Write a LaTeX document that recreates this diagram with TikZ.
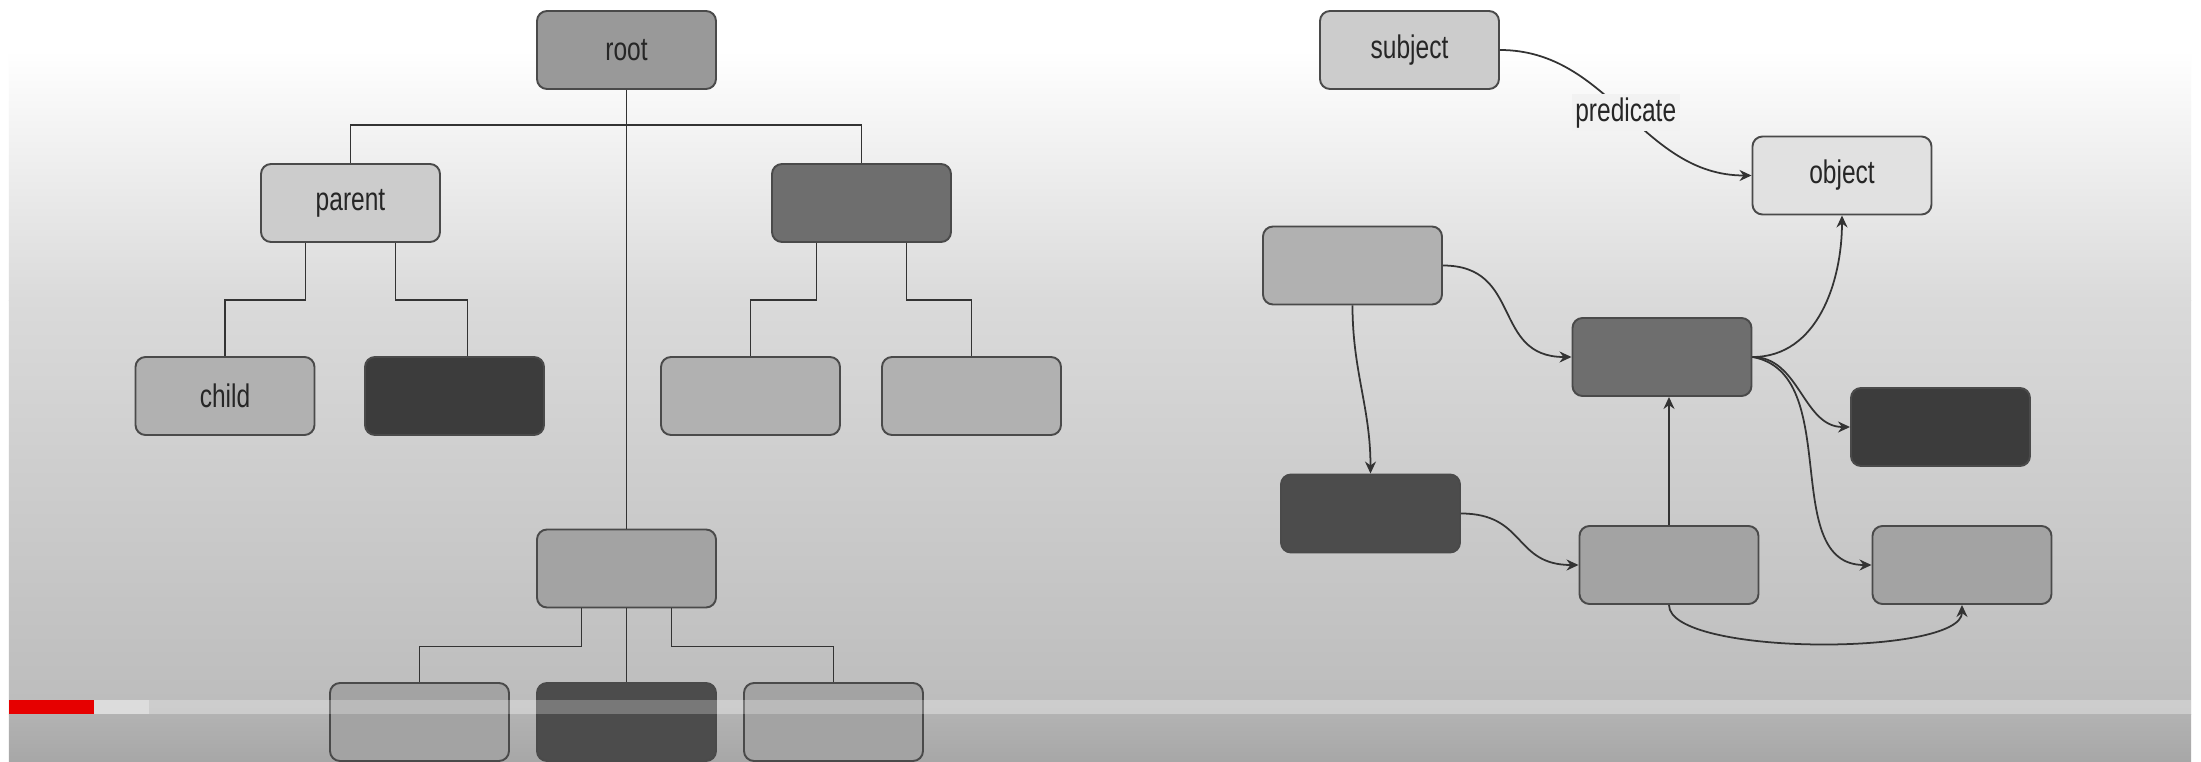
\documentclass[tikz,border=0pt]{standalone}
\usepackage{fontspec}
\setmainfont{Liberation Sans}[FakeStretch=0.75]
\usetikzlibrary{arrows.meta}
\definecolor{tone-1}{HTML}{e1e1e1}
\definecolor{tone-2}{HTML}{cccccc}
\definecolor{tone-3}{HTML}{b1b1b1}
\definecolor{tone-4}{HTML}{a3a3a3}
\definecolor{tone-5}{HTML}{999999}
\definecolor{tone-6}{HTML}{6e6e6e}
\definecolor{tone-7}{HTML}{4c4c4c}
\definecolor{tone-8}{HTML}{3c3c3c}
\definecolor{frame-grey}{HTML}{4a4a4a}
\definecolor{line-grey}{HTML}{333333}
\definecolor{bg-mid}{HTML}{dadada}
\definecolor{bg-low}{HTML}{bcbcbc}
\definecolor{bg-foot}{HTML}{a7a7a7}
\definecolor{bar-red}{HTML}{e60000}
\definecolor{bar-buffer}{HTML}{dcdcdc}

\begin{document}
\begin{tikzpicture}[
    box/.style={
        draw=frame-grey, line width=0.55pt, rounded corners=1mm,
        minimum width=1.79cm, minimum height=0.78cm,
        text=black!85, font=\fontsize{9.3}{11}\selectfont,
    },
    link/.style={ draw=line-grey, line width=0.5pt, },
    arrow/.style={ link, -{Stealth[length=1.2mm, width=1.1mm]}, },
    tag/.style={ fill=black!5, inner sep=1pt, text=black!85, font=\fontsize{9.3}{11}\selectfont, },
]
\useasboundingbox (0,0) rectangle (22.01,-7.62);

\fill[white] (0,0) rectangle (22.01,-7.62);
\shade[top color=white, bottom color=bg-mid] (0.09,-0.5) rectangle (21.91,-3);
\shade[top color=bg-mid, bottom color=bg-low] (0.09,-3) rectangle (21.91,-7.14);
\shade[top color=bg-low!95!black, bottom color=bg-foot] (0.09,-7.14) rectangle (21.91,-7.62);

% tree
\node[box, fill=tone-5] (root) at (6.265,-0.50) {root};
\node[box, fill=tone-2] (parent) at (3.505,-2.03) {parent};
\node[box, fill=tone-3] (child) at (2.25,-3.96) {child};
\foreach \name/\pos/\tone in {
    rbranch/{(8.615,-2.03)}/tone-6,
    darkleaf/{(4.545,-3.96)}/tone-8,
    leafc/{(7.505,-3.96)}/tone-3,
    leafd/{(9.715,-3.96)}/tone-3,
    mid/{(6.265,-5.685)}/tone-4,
    foota/{(4.195,-7.22)}/tone-4,
    footb/{(6.265,-7.22)}/tone-7,
    footc/{(8.335,-7.22)}/tone-4}
    \node[box, fill=\tone] (\name) at \pos {};

\draw[link] (root) -- (mid);
\draw[link] (parent.north) -- ++(0,0.38) -| (rbranch.north);
\draw[link] ([xshift=-4.5mm]parent.south) -- ++(0,-0.57) -| (child.north);
\draw[link] ([xshift=4.5mm]parent.south) -- ++(0,-0.57) -| ([xshift=1.3mm]darkleaf.north);
\draw[link] ([xshift=-4.5mm]rbranch.south) -- ++(0,-0.57) -| (leafc.north);
\draw[link] ([xshift=4.5mm]rbranch.south) -- ++(0,-0.57) -| (leafd.north);
\draw[link] ([xshift=-4.5mm]mid.south) -- ++(0,-0.38) -| (foota.north);
\draw[link] (mid) -- (footb);
\draw[link] ([xshift=4.5mm]mid.south) -- ++(0,-0.38) -| (footc.north);

% graph
\node[box, fill=tone-2] (subject) at (14.095,-0.50) {subject};
\node[box, fill=tone-1] (object) at (18.42,-1.755) {object};
\foreach \name/\pos/\tone in {
    ga/{(13.525,-2.655)}/tone-3,
    gb/{(16.62,-3.57)}/tone-6,
    gc/{(19.405,-4.27)}/tone-8,
    gd/{(13.705,-5.135)}/tone-7,
    ge/{(16.69,-5.65)}/tone-4,
    gf/{(19.62,-5.65)}/tone-4}
    \node[box, fill=\tone] (\name) at \pos {};

\draw[arrow] (subject.east) to[out=0, in=180] node[tag] {predicate} (object.west);
\draw[arrow] (ga.east) to[out=0, in=180, looseness=1.3] (gb.west);
\draw[arrow] (ga.south) to[out=-90, in=90] (gd.north);
\draw[arrow] (gb.east) to[out=0, in=-90] (object.south);
\draw[arrow] (gb.east) to[out=0, in=180] (gc.west);
\draw[arrow] (gb.east) to[out=-10, in=180] (gf.west);
\draw[arrow] (gd.east) to[out=0, in=180, looseness=1.3] (ge.west);
\draw[arrow] (ge.north) to[out=90, in=-90] ([xshift=0.7mm]gb.south);
\draw[arrow] (ge.south) to[out=-90, in=-90, looseness=0.45] (gf.south);

% player bar
\fill[white, opacity=0.25] (1.49,-7.00) rectangle (21.91,-7.14);
\fill[bar-buffer] (0.94,-7.00) rectangle (1.49,-7.14);
\fill[bar-red] (0.09,-7.00) rectangle (0.94,-7.14);
\end{tikzpicture}
\end{document}
